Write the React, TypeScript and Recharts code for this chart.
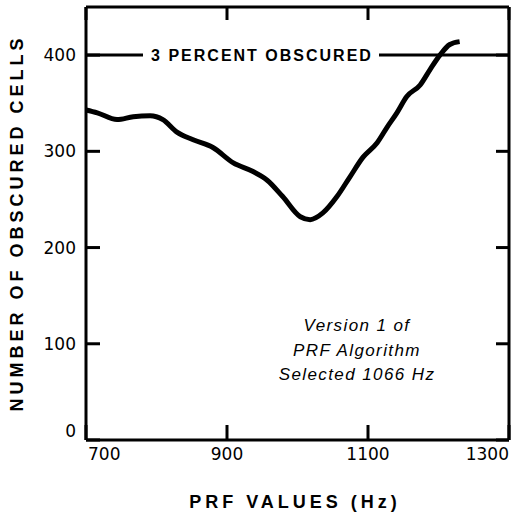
import { Label, Line, LineChart, ReferenceLine, XAxis, YAxis } from 'recharts'

// PRF sweep
const prfHz = [700, 716, 744, 767, 791, 809, 829, 852, 880, 909, 937, 957, 979, 1004, 1018, 1036, 1056, 1074, 1093, 1113, 1127, 1141, 1155, 1174, 1188, 1202, 1216, 1230]
const obscuredCells = [343, 340, 333, 336, 337, 333, 320, 312, 304, 288, 279, 270, 253, 232, 229, 236, 253, 273, 294, 309, 325, 340, 357, 369, 385, 400, 411, 414]

const xTicks = [700, 900, 1100, 1300]
const yTicks = [0, 100, 200, 300, 400]
const thresholdValue = 400
const thresholdLabel = '3 PERCENT OBSCURED'
const noteLines = ['Version 1 of', 'PRF Algorithm', 'Selected 1066 Hz']

const data = prfHz.map((prf, i) => ({ prf, cells: obscuredCells[i] }))

const xDomain = [700, 1300]
const yDomain = [0, 450]
const plot = { left: 86, top: 7, right: 509, bottom: 440 }

const tickFont = { fontFamily: 'DejaVu Sans', fontSize: 17, fill: '#000' }
const titleFont = { fontFamily: 'Liberation Sans', fontSize: 18, fontWeight: 700, letterSpacing: 4, fill: '#000' }

// label plus inward ticks on the bottom and top edges
function XTick({ x, y, payload, index }: any) {
  const axisY = y - 8
  const last = index === xTicks.length - 1
  const anchor = index === 0 ? 'start' : last ? 'end' : 'middle'
  return (
    <g>
      <line x1={x} x2={x} y1={axisY} y2={axisY - 15} stroke="#000" strokeWidth={3} />
      <line x1={x} x2={x} y1={plot.top} y2={plot.top + 13} stroke="#000" strokeWidth={3} />
      <text x={index === 0 ? x + 2 : x} y={y} dy="0.71em" textAnchor={anchor} {...tickFont}>
        {payload.value}
      </text>
    </g>
  )
}

// label plus inward ticks on the left and right edges
function YTick({ x, y, payload }: any) {
  const axisX = x + 10
  return (
    <g>
      <line x1={axisX} x2={axisX + 14} y1={y} y2={y} stroke="#000" strokeWidth={3} />
      <line x1={plot.right} x2={plot.right - 13} y1={y} y2={y} stroke="#000" strokeWidth={3} />
      <text x={x} y={payload.value === 0 ? y - 9 : y} dy="0.36em" textAnchor="end" {...tickFont}>
        {payload.value}
      </text>
    </g>
  )
}

function ThresholdLabel({ viewBox }: any) {
  return (
    <g>
      <rect x={viewBox.x + 57} y={viewBox.y - 8} width={236} height={16} fill="#fff" />
      <text
        x={viewBox.x + 176}
        y={viewBox.y}
        dy="0.36em"
        textAnchor="middle"
        fontFamily="Liberation Sans"
        fontSize={16}
        fontWeight={700}
        letterSpacing={2}
        fill="#000"
      >
        {thresholdLabel}
      </text>
    </g>
  )
}

function XTitle({ viewBox }: any) {
  return (
    <text x={viewBox.x + 209} y={viewBox.y + 62} dy="0.36em" textAnchor="middle" {...titleFont}>
      PRF VALUES (Hz)
    </text>
  )
}

function YTitle({ viewBox }: any) {
  const cx = viewBox.x - 9
  const cy = 223
  return (
    <text x={cx} y={cy} dy="0.36em" textAnchor="middle" transform={`rotate(-90 ${cx} ${cy})`} {...titleFont}>
      NUMBER OF OBSCURED CELLS
    </text>
  )
}

export default function App() {
  return (
    <div style={{ position: 'absolute', left: 0, top: 0, background: '#fff' }}>
      <LineChart width={516} height={516} data={data} margin={{ top: 7, right: 7, bottom: 36, left: 26 }}>
        <XAxis
          dataKey="prf"
          type="number"
          domain={xDomain}
          ticks={xTicks}
          height={40}
          tickLine={false}
          tickSize={0}
          tickMargin={8}
          tick={<XTick />}
          interval={0}
          axisLine={{ stroke: '#000', strokeWidth: 3 }}
        >
          <Label content={<XTitle />} />
        </XAxis>
        <YAxis
          type="number"
          domain={yDomain}
          ticks={yTicks}
          width={60}
          tickLine={false}
          tickSize={0}
          tickMargin={10}
          tick={<YTick />}
          interval={0}
          axisLine={{ stroke: '#000', strokeWidth: 3 }}
        >
          <Label content={<YTitle />} />
        </YAxis>
        {/* top and right edges of the frame */}
        <ReferenceLine y={yDomain[1]} stroke="#000" strokeWidth={3} ifOverflow="visible" />
        <ReferenceLine x={xDomain[1]} stroke="#000" strokeWidth={3} ifOverflow="visible" />
        <ReferenceLine y={thresholdValue} stroke="#000" strokeWidth={3} label={<ThresholdLabel />} />
        <Line dataKey="cells" type="monotone" stroke="#000" strokeWidth={5} dot={false} isAnimationActive={false} />
      </LineChart>
      <div
        style={{
          position: 'absolute',
          left: 257,
          top: 314,
          width: 200,
          textAlign: 'center',
          fontFamily: 'Liberation Sans',
          fontStyle: 'italic',
          fontSize: 17,
          lineHeight: '24.5px',
          letterSpacing: 1.4,
          color: '#000',
        }}
      >
        {noteLines.map((t) => (
          <div key={t} style={{ whiteSpace: 'nowrap' }}>
            {t}
          </div>
        ))}
      </div>
    </div>
  )
}
